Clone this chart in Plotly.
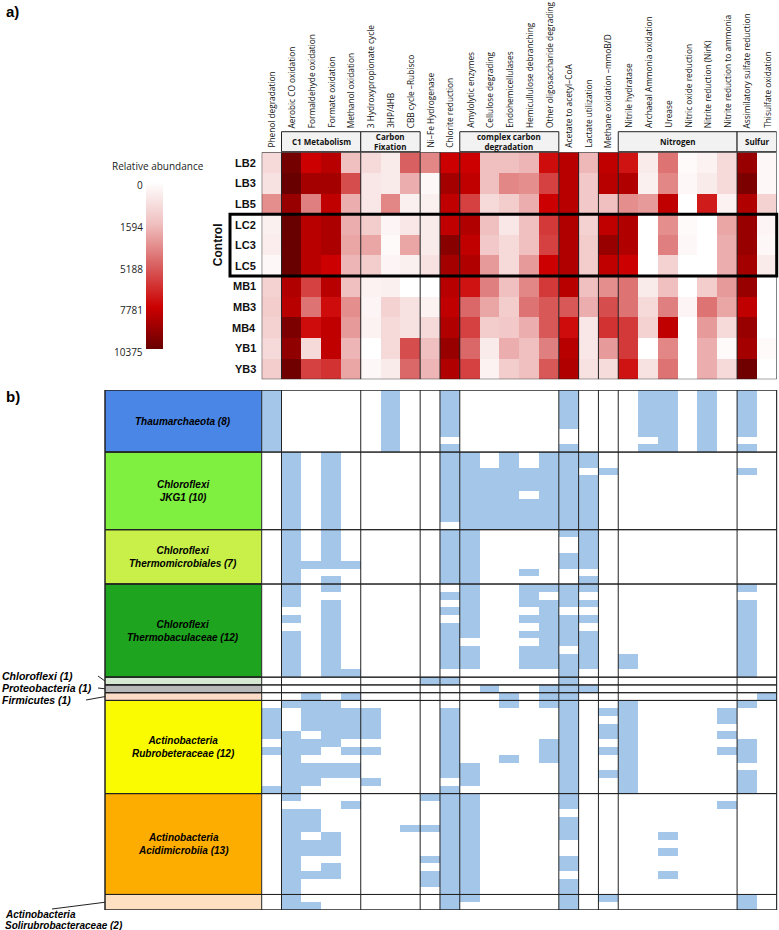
import numpy as np
import plotly.graph_objects as go

W, H = 779, 930

# ---------------- data ----------------
sections = [
    ("", ["Phenol degradation"]),
    ("C1 Metabolism", ["Aerobic CO oxidation", "Formaldehyde oxidation", "Formate oxidation", "Methanol oxidation"]),
    ("Carbon<br>Fixation", ["3 Hydroxypropionate cycle", "3HP/4HB", "CBB cycle –Rubisco"]),
    ("", ["Ni–Fe Hydrogenase"]),
    ("", ["Chlorite reduction"]),
    ("complex carbon<br>degradation", ["Amylolytic enzymes", "Cellulose degrading", "Endohemicellulases",
                                       "Hemicullulose debranching", "Other oligosaccharide degrading"]),
    ("", ["Acetate to acetyl–CoA"]),
    ("", ["Lactate utilization"]),
    ("", ["Methane oxidation –mmoB/D"]),
    ("Nitrogen", ["Nitrile hydratase", "Archaeal Ammonia oxidation", "Urease", "Nitric oxide reduction",
                  "Nitrite reduction (NirK)", "Nitrite reduction to ammonia"]),
    ("Sulfur", ["Assimilatory sulfate reduction", "Thisulfate oxidation"]),
]

samples = ["LB2", "LB3", "LB5", "LC2", "LC3", "LC5", "MB1", "MB3", "MB4", "YB1", "YB3"]
control_samples = ["LC2", "LC3", "LC5"]

# relative abundance (rows = samples, columns = functions)
ab_LB2 = [960, 10060, 7780, 8300, 1590, 960, 510, 5190, 3750, 7780, 7780, 1590, 1590, 2020, 7470, 8300, 1880, 8090, 7260, 510, 4470, 130, 320, 960, 9130, 190]
ab_LB3 = [770, 10375, 8820, 8820, 5710, 640, 510, 2310, 190, 8820, 8090, 1590, 3750, 3460, 6020, 8300, 1400, 8300, 8510, 380, 3750, 190, 510, 960, 9850, 190]
ab_LB5 = [3460, 9130, 4040, 8090, 2310, 640, 3750, 380, 380, 8090, 6020, 960, 1280, 2310, 7780, 8300, 1400, 1590, 3460, 3030, 8090, 0, 7050, 320, 8510, 1150]
ab_LC2 = [380, 10375, 8300, 8610, 2310, 1280, 260, 640, 510, 8090, 8510, 1590, 640, 1590, 6230, 8510, 1150, 8090, 8510, 0, 3460, 130, 0, 2600, 9130, 260]
ab_LC3 = [450, 10375, 8300, 8610, 2600, 2600, 130, 2600, 510, 9540, 8090, 1400, 960, 1590, 6020, 8510, 1280, 9130, 8510, 0, 4040, 190, 0, 2310, 9130, 190]
ab_LC5 = [190, 10375, 8300, 7780, 2020, 1280, 260, 380, 770, 8820, 8510, 3030, 960, 3030, 7780, 8510, 1280, 8090, 7780, 0, 1150, 0, 0, 2310, 8820, 510]
ab_MB1 = [1150, 8510, 6020, 8300, 1590, 320, 380, 0, 0, 8300, 7260, 4040, 1590, 3750, 6230, 8300, 1590, 3460, 4470, 510, 1590, 0, 1280, 3030, 9130, 0]
ab_MB3 = [1280, 8300, 4470, 7470, 3460, 260, 1150, 770, 320, 8090, 4900, 2600, 1280, 4470, 5400, 5400, 2310, 5710, 4470, 960, 4040, 260, 4470, 2600, 8090, 0]
ab_MB4 = [1150, 9850, 7470, 8090, 3030, 320, 960, 770, 960, 8510, 6020, 1280, 1400, 2310, 5400, 7470, 640, 6430, 6230, 1150, 8090, 0, 3030, 960, 9130, 0]
ab_YB1 = [960, 9330, 960, 8090, 2020, 0, 960, 5710, 1590, 9130, 4900, 510, 2310, 1590, 4040, 8300, 640, 3030, 6230, 0, 3750, 0, 2310, 130, 8820, 130]
ab_YB3 = [1280, 10170, 6020, 6430, 2600, 190, 510, 4900, 2020, 8510, 6020, 320, 1280, 1590, 5400, 8510, 770, 890, 7260, 770, 4470, 0, 2310, 960, 10170, 0]

cb_ticks = [0, 1594, 5188, 7781, 10375]

# panel b: functions present in each genome (1-based function numbers)
thaum = [[1, 7, 10, 16, 20, 21, 23, 25], [1, 7, 10, 16, 20, 21, 23, 25], [1, 7, 10, 16, 20, 21, 23, 25],
         [1, 7, 10, 16, 20, 21, 23, 25], [1, 7, 10, 16, 20, 21, 23, 25], [1, 7, 10, 20, 21, 23, 25],
         [1, 7, 21, 23], [1, 7, 10, 16, 20, 21, 23, 25]]
jkg1 = [[2, 4, 10, 11, 13, 15, 16, 17], [2, 4, 10, 11, 13, 15, 16, 17], [2, 4, 10, 11, 12, 13, 14, 15, 16, 18, 25],
        [2, 4, 10, 11, 12, 13, 14, 15, 16, 17], [2, 4, 10, 11, 12, 13, 14, 15, 16, 17], [2, 4, 10, 11, 12, 13, 15, 16, 17],
        [2, 4, 10, 11, 12, 13, 14, 15, 16, 17], [2, 4, 10, 11, 12, 13, 14, 15, 16, 17], [2, 4, 10, 11, 12, 13, 14, 15, 16, 17],
        [2, 4, 11, 12, 13, 14, 15, 16, 17]]
thermomicro = [[2, 4, 10, 11, 16, 17], [2, 4, 10, 11, 17], [2, 4, 10, 11, 17], [2, 4, 10, 11, 16, 17],
               [2, 3, 4, 5, 10, 11, 16, 17], [2, 10, 11, 14], [2, 4, 10, 11, 17]]
thermobac = [[2, 4, 11, 14, 15, 16, 17, 25], [2, 10, 11, 14, 16], [2, 4, 11, 14, 15, 16, 17, 25], [4, 10, 11, 15, 25],
             [2, 4, 11, 14, 15, 16, 17, 25], [4, 10, 11, 15, 16, 25], [2, 4, 10, 11, 14, 15, 16, 17, 25],
             [2, 4, 10, 15, 16, 17, 25], [2, 4, 10, 11, 14, 15, 17, 25], [2, 4, 10, 11, 14, 15, 16, 17, 19, 25],
             [2, 4, 10, 11, 14, 15, 16, 17, 19, 25], [2, 4, 5, 16, 25]]
chloroflexi1 = [[9, 10, 16]]
proteo1 = [[12, 15, 16, 17]]
firmi1 = [[3, 5, 13, 15, 16, 26]]
rubro = [[2, 3, 4, 13, 15, 16, 19, 25], [1, 3, 4, 5, 6, 10, 16, 18, 19, 24], [1, 3, 4, 5, 6, 10, 16, 19, 24],
         [1, 3, 4, 5, 6, 10, 16, 18, 19], [1, 2, 4, 5, 6, 10, 16, 18, 19, 24], [2, 3, 4, 10, 15, 16, 19, 25],
         [1, 2, 3, 5, 6, 10, 15, 16, 18, 19, 24, 25], [2, 10, 13, 15, 16, 19, 25], [2, 3, 4, 5, 10, 11, 16, 19],
         [2, 3, 4, 5, 10, 11, 16, 18, 19, 25], [2, 3, 6, 11, 16, 19, 25], [1, 2, 10, 16, 19, 25]]
acidi = [[2, 9, 10, 11, 16], [5, 10, 11, 16, 24], [2, 3, 10, 11], [2, 3, 10, 11, 16], [2, 3, 8, 9, 10, 11, 16],
         [2, 4, 10, 11, 16, 21], [2, 3, 4, 10, 11], [2, 3, 4, 10, 11, 21], [2, 9, 10, 11, 16], [2, 4, 10, 11, 16],
         [2, 3, 4, 9, 10, 11, 21], [2, 9, 10, 11, 16], [2, 10, 11, 16]]
soliru = [[2, 10, 11, 16, 18, 25], [2, 3, 10, 16, 25]]

taxa_labels = ["Thaumarchaeota (8)", "Chloroflexi<br>JKG1 (10)",
               "Chloroflexi<br>Thermomicrobiales (7)", "Chloroflexi<br>Thermobaculaceae (12)",
               "Chloroflexi (1)", "Proteobacteria (1)", "Firmicutes (1)",
               "Actinobacteria<br>Rubrobeteraceae (12)", "Actinobacteria<br>Acidimicrobiia (13)",
               "Actinobacteria<br>Solirubrobacteraceae (2)"]
taxa_genomes = [thaum, jkg1, thermomicro, thermobac, chloroflexi1, proteo1, firmi1, rubro, acidi, soliru]
taxa_colors = ["#4a86e6", "#80f040", "#c8f048", "#1ea41e", "#d6e8d2", "#b8b8b8", "#fcdcc6",
               "#fafa00", "#fdad00", "#fde0c2"]

# ---------------- derived ----------------
functions = [f for _, fs in sections for f in fs]
nF = len(functions)
abund = np.array([ab_LB2, ab_LB3, ab_LB5, ab_LC2, ab_LC3, ab_LC5, ab_MB1, ab_MB3, ab_MB4, ab_YB1, ab_YB3], float)
nS = len(samples)
# colour position along the (equally spaced) colour-bar ticks; negated so 0 sits at the top of the bar
levels = -np.interp(abund, cb_ticks, [0, 0.25, 0.5, 0.75, 1.0])

genomes = [g for grp in taxa_genomes for g in grp]
nG = len(genomes)
pres = np.zeros((nG, nF))
for i, g in enumerate(genomes):
    for f in g:
        pres[i, f - 1] = 1

# ---------------- geometry (pixels) ----------------
AX0, AX1 = 261.7, 776.7
AY0, AY1 = 152.3, 379.3
BY0, BY1 = 390.0, 910.0
BOXX0 = 105.0
def px(x): return x / W
def py(y): return 1 - y / H
def rowpx(r): return BY0 + (r + 0.5) * (BY1 - BY0) / nG

fig = go.Figure()
reds = [[0, "#680000"], [0.25, "#cc0000"], [0.5, "#d96060"], [0.75, "#f0c0c0"], [1, "#ffffff"]]
fig.add_trace(go.Heatmap(
    z=levels, x=list(range(nF)), y=list(range(nS)), customdata=abund,
    colorscale=reds, zmin=-1, zmax=0, xaxis="x", yaxis="y",
    hovertemplate="%{customdata:.0f}<extra></extra>",
    colorbar=dict(x=px(146), xanchor="left", y=py(266), yanchor="middle",
                  len=166.6, lenmode="pixels", thickness=17, thicknessmode="pixels",
                  outlinewidth=0, showticklabels=False, ticks="", xpad=0, ypad=0)))
fig.add_trace(go.Heatmap(
    z=pres, x=list(range(nF)), y=list(range(nG)),
    colorscale=[[0, "#ffffff"], [1, "#a3c6e9"]], zmin=0, zmax=1, showscale=False,
    xaxis="x2", yaxis="y2", hoverinfo="skip"))

shapes, ann = [], []
LC = "#222222"

# section boundaries
bounds, c = [], 0
for name, fs in sections:
    bounds.append((name, c, c + len(fs)))
    c += len(fs)

for xr, yr, n in (("x", "y", nS), ("x2", "y2", nG)):
    for _, s, e in bounds[1:]:
        shapes.append(dict(type="line", xref=xr, yref=yr, x0=s - 0.5, x1=s - 0.5, y0=-0.5, y1=n - 0.5,
                           line=dict(color=LC, width=1)))
    shapes.append(dict(type="rect", xref=xr, yref=yr, x0=-0.5, x1=nF - 0.5, y0=-0.5, y1=n - 0.5,
                       line=dict(color=LC, width=1)))

# group header boxes
for name, s, e in bounds:
    if name:
        shapes.append(dict(type="rect", xref="x", yref="paper", x0=s - 0.5, x1=e - 0.5,
                           y0=py(151.7), y1=py(131.7), fillcolor="#f2f2f2", line=dict(color=LC, width=1)))
        ann.append(dict(text="<b>" + name + "</b>", xref="x", yref="paper", x=(s + e - 1) / 2, y=py(141.7),
                        showarrow=False, font=dict(size=8, family="Open Sans", color="#111"),
                        xanchor="center", yanchor="middle"))
    for j in range(s, e):
        ybot = 130 if name else 150
        ann.append(dict(text=functions[j], xref="x", yref="paper", x=j, y=py(ybot), textangle=-90,
                        showarrow=False, xanchor="center", yanchor="bottom",
                        font=dict(size=8.3, family="Open Sans", color="#111")))

# row labels
for i, s in enumerate(samples):
    ann.append(dict(text="<b>" + s + "</b>", xref="paper", yref="y", x=px(258), y=i, xanchor="right",
                    yanchor="middle", showarrow=False, font=dict(size=11, family="Liberation Sans", color="#111")))
i0, i1 = samples.index(control_samples[0]), samples.index(control_samples[-1])
shapes.append(dict(type="rect", xref="paper", yref="y", x0=px(230), x1=px(AX1), y0=i0 - 0.5, y1=i1 + 0.5,
                   line=dict(color="black", width=3)))
ann.append(dict(text="<b>Control</b>", xref="paper", yref="y", x=px(218), y=(i0 + i1) / 2, textangle=-90,
                showarrow=False, xanchor="center", yanchor="middle",
                font=dict(size=12, family="Liberation Sans", color="#111")))

# colorbar labels
ann.append(dict(text="Relative abundance", xref="paper", yref="paper", x=px(158), y=py(166), showarrow=False,
                xanchor="center", yanchor="middle", font=dict(size=10, family="Open Sans", color="#222")))
for k, t in enumerate(cb_ticks):
    ann.append(dict(text=str(t), xref="paper", yref="paper", x=px(145), y=py(182.7 + 166.6 * k / 4 + 2.5),
                    showarrow=False, xanchor="right", yanchor="middle",
                    font=dict(size=10, family="Open Sans", color="#222")))

ann.append(dict(text="<b>a)</b>", xref="paper", yref="paper", x=px(4), y=py(11), showarrow=False,
                xanchor="left", yanchor="middle", font=dict(size=15, family="Liberation Sans", color="black")))
ann.append(dict(text="<b>b)</b>", xref="paper", yref="paper", x=px(4), y=py(396), showarrow=False,
                xanchor="left", yanchor="middle", font=dict(size=15, family="Liberation Sans", color="black")))

# taxon boxes
r = 0
outside_y = {4: 676, 5: 688, 6: 700}
for t, (lab, grp, col) in enumerate(zip(taxa_labels, taxa_genomes, taxa_colors)):
    n = len(grp)
    shapes.append(dict(type="rect", xref="paper", yref="y2", x0=px(BOXX0), x1=px(AX0), y0=r - 0.5, y1=r + n - 0.5,
                       fillcolor=col, line=dict(color=LC, width=1), layer="below"))
    shapes.append(dict(type="rect", xref="paper", yref="y2", x0=px(BOXX0), x1=px(AX1), y0=r - 0.5, y1=r + n - 0.5,
                       line=dict(color=LC, width=1)))
    fnt = dict(size=10, family="Liberation Sans", color="black")
    if n >= 3:
        ann.append(dict(text="<b><i>" + lab + "</i></b>", xref="paper", yref="y2", x=px((BOXX0 + AX0) / 2),
                        y=r + (n - 1) / 2, showarrow=False, xanchor="center", yanchor="middle", font=fnt))
    elif n == 1:
        ly = outside_y[t]
        ann.append(dict(text="<b><i>" + lab + "</i></b>", xref="paper", yref="paper", x=px(0), y=py(ly),
                        showarrow=False, xanchor="left", yanchor="middle",
                        font=dict(size=10.5, family="Liberation Sans", color="black")))
        shapes.append(dict(type="line", xref="paper", yref="paper", x0=px(98 if t != 6 else 86), y0=py(ly),
                           x1=px(BOXX0), y1=py(rowpx(r)), line=dict(color=LC, width=1)))
    else:
        for k, part in enumerate(lab.split("<br>")):
            ann.append(dict(text="<b><i>" + part + "</i></b>", xref="paper", yref="paper", x=px(3),
                            y=py(914.5 + 10.5 * k), showarrow=False, xanchor="left", yanchor="middle",
                            font=dict(size=10, family="Liberation Sans", color="black")))
        shapes.append(dict(type="line", xref="paper", yref="paper", x0=px(52), y0=py(909),
                           x1=px(BOXX0), y1=py(rowpx(r + 0.5)), line=dict(color=LC, width=1)))
    r += n

fig.update_layout(
    width=W, height=H, margin=dict(l=0, r=0, t=0, b=0),
    paper_bgcolor="white", plot_bgcolor="white", showlegend=False,
    xaxis=dict(domain=[px(AX0), px(AX1)], range=[-0.5, nF - 0.5], visible=False, fixedrange=True),
    yaxis=dict(domain=[py(AY1), py(AY0)], range=[nS - 0.5, -0.5], visible=False, fixedrange=True),
    xaxis2=dict(domain=[px(AX0), px(AX1)], range=[-0.5, nF - 0.5], visible=False, anchor="y2", fixedrange=True),
    yaxis2=dict(domain=[py(BY1), py(BY0)], range=[nG - 0.5, -0.5], visible=False, anchor="x2", fixedrange=True),
    shapes=shapes, annotations=ann,
)
fig.write_html("out.html", config={"displayModeBar": False},
               post_script="document.body.style.margin='0px';document.body.style.padding='0px';")
